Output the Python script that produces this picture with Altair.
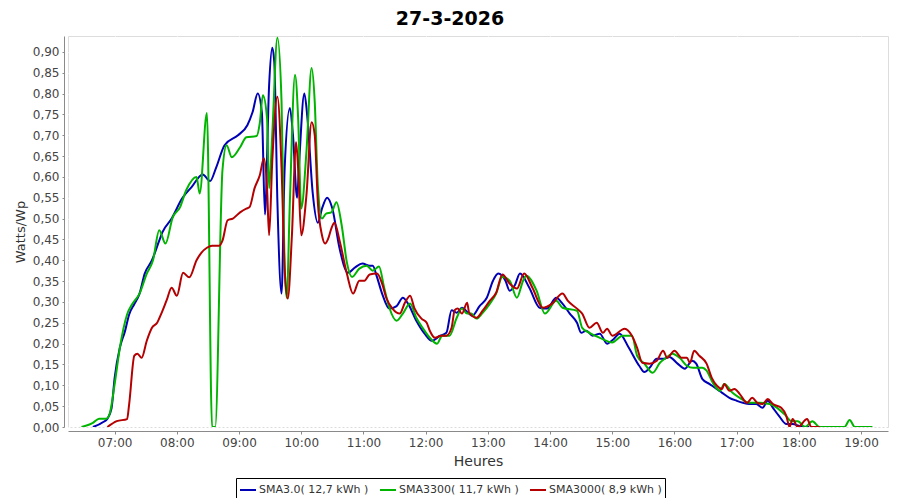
import altair as alt
import pandas as pd

# ---------------- data ----------------
names = ["SMA3.0( 12,7 kWh )", "SMA3300( 11,7 kWh )", "SMA3000( 8,9 kWh )"]
colors = ["#0000b4", "#00b400", "#b40000"]

blue_t = ["06:39", "06:49", "06:53", "06:57", "07:00", "07:05", "07:10", "07:14", "07:19", "07:24",
          "07:29", "07:36", "07:43", "07:46", "07:55", "08:05", "08:14", "08:25", "08:32", "08:38",
          "08:46", "08:59", "09:08", "09:13", "09:18", "09:22", "09:25", "09:29", "09:32", "09:34",
          "09:37", "09:41", "09:44", "09:49", "09:52", "09:56", "09:58", "10:03", "10:06", "10:11",
          "10:16", "10:20", "10:25", "10:30", "10:37", "10:45", "10:52", "10:59", "11:06", "11:09",
          "11:13", "11:18", "11:25", "11:32", "11:38", "11:43", "11:51", "11:59", "12:06", "12:14",
          "12:20", "12:25", "12:30", "12:35", "12:41", "12:45", "12:52", "12:59", "13:05", "13:10",
          "13:17", "13:21", "13:26", "13:31", "13:40", "13:50", "13:57", "14:06", "14:12", "14:19",
          "14:26", "14:30", "14:35", "14:41", "14:48", "14:55", "15:01", "15:07", "15:16", "15:26",
          "15:31", "15:36", "15:43", "15:50", "15:55", "16:03", "16:10", "16:17", "16:21", "16:27",
          "16:34", "16:41", "16:46", "16:53", "17:00", "17:06", "17:12", "17:19", "17:25", "17:30",
          "17:35", "17:41", "17:48", "17:54", "18:01", "18:10"]
blue_v = [0.000, 0.012, 0.020, 0.045, 0.118, 0.190, 0.230, 0.270, 0.295, 0.320,
          0.368, 0.400, 0.447, 0.467, 0.500, 0.548, 0.575, 0.606, 0.590, 0.623,
          0.676, 0.700, 0.724, 0.755, 0.800, 0.755, 0.510, 0.820, 0.910, 0.875,
          0.540, 0.320, 0.620, 0.765, 0.700, 0.550, 0.635, 0.800, 0.740, 0.563,
          0.490, 0.524, 0.550, 0.524, 0.428, 0.370, 0.383, 0.392, 0.387, 0.387,
          0.360, 0.320, 0.284, 0.290, 0.310, 0.296, 0.255, 0.224, 0.207, 0.219,
          0.226, 0.280, 0.274, 0.286, 0.274, 0.267, 0.290, 0.310, 0.351, 0.368,
          0.351, 0.327, 0.340, 0.368, 0.334, 0.286, 0.284, 0.310, 0.296, 0.272,
          0.250, 0.226, 0.231, 0.219, 0.224, 0.200, 0.210, 0.224, 0.190, 0.147,
          0.132, 0.142, 0.164, 0.164, 0.168, 0.152, 0.140, 0.159, 0.152, 0.115,
          0.103, 0.091, 0.082, 0.070, 0.063, 0.058, 0.055, 0.055, 0.046, 0.063,
          0.046, 0.026, 0.007, 0.007, 0.002, 0.000]

green_t = ["06:28", "06:39", "06:45", "06:52", "06:55", "07:00", "07:05", "07:12", "07:17", "07:24",
           "07:31", "07:37", "07:43", "07:49", "07:56", "08:03", "08:09", "08:19", "08:22", "08:29",
           "08:34", "08:37", "08:44", "08:48", "08:53", "09:01", "09:07", "09:17", "09:20", "09:23",
           "09:27", "09:29", "09:32", "09:37", "09:41", "09:44", "09:46", "09:49", "09:54", "09:57",
           "10:00", "10:05", "10:10", "10:13", "10:16", "10:20", "10:24", "10:29", "10:34", "10:39",
           "10:44", "10:49", "10:56", "11:03", "11:09", "11:15", "11:20", "11:25", "11:32", "11:38",
           "11:45", "11:51", "11:57", "12:04", "12:11", "12:16", "12:23", "12:30", "12:35", "12:40",
           "12:44", "12:49", "12:55", "13:02", "13:08", "13:14", "13:21", "13:28", "13:34", "13:37",
           "13:47", "13:55", "14:06", "14:12", "14:26", "14:31", "14:38", "14:48", "15:00", "15:10",
           "15:19", "15:24", "15:31", "15:39", "15:46", "15:52", "15:58", "16:05", "16:12", "16:18",
           "16:27", "16:31", "16:37", "16:44", "16:48", "16:56", "17:03", "17:12", "17:22", "17:32",
           "17:39", "17:46", "17:53", "17:59", "18:06", "18:13", "18:20", "18:44", "18:49", "18:54",
           "19:11"]
green_v = [0.000, 0.010, 0.020, 0.020, 0.030, 0.103, 0.190, 0.270, 0.295, 0.320,
           0.368, 0.400, 0.472, 0.440, 0.503, 0.527, 0.568, 0.600, 0.560, 0.753,
           0.000, 0.000, 0.616, 0.676, 0.647, 0.671, 0.695, 0.698, 0.729, 0.796,
           0.741, 0.573, 0.700, 0.934, 0.780, 0.380, 0.310, 0.539, 0.845, 0.741,
           0.524, 0.660, 0.861, 0.780, 0.580, 0.500, 0.512, 0.515, 0.539, 0.484,
           0.395, 0.360, 0.380, 0.387, 0.375, 0.385, 0.334, 0.286, 0.255, 0.272,
           0.296, 0.262, 0.238, 0.214, 0.200, 0.219, 0.219, 0.262, 0.284, 0.272,
           0.272, 0.260, 0.274, 0.296, 0.320, 0.360, 0.351, 0.310, 0.351, 0.363,
           0.327, 0.272, 0.303, 0.286, 0.279, 0.238, 0.226, 0.214, 0.203, 0.219,
           0.219, 0.171, 0.152, 0.130, 0.154, 0.166, 0.176, 0.166, 0.147, 0.142,
           0.142, 0.135, 0.106, 0.087, 0.103, 0.082, 0.070, 0.058, 0.058, 0.055,
           0.046, 0.031, 0.014, 0.014, 0.000, 0.014, 0.000, 0.000, 0.017, 0.000,
           0.000]

red_t = ["06:53", "07:02", "07:12", "07:14", "07:19", "07:22", "07:26", "07:31", "07:36", "07:41",
         "07:45", "07:50", "07:55", "08:00", "08:06", "08:12", "08:19", "08:24", "08:29", "08:34",
         "08:41", "08:44", "08:49", "08:54", "09:01", "09:07", "09:10", "09:15", "09:20", "09:24",
         "09:27", "09:29", "09:32", "09:37", "09:41", "09:44", "09:47", "09:51", "09:55", "09:57",
         "10:00", "10:05", "10:10", "10:13", "10:16", "10:20", "10:23", "10:26", "10:29", "10:32",
         "10:37", "10:44", "10:50", "10:56", "11:01", "11:06", "11:13", "11:18", "11:22", "11:28",
         "11:35", "11:40", "11:45", "11:49", "11:56", "12:01", "12:04", "12:09", "12:15", "12:20",
         "12:25", "12:28", "12:31", "12:35", "12:40", "12:42", "12:49", "12:55", "13:02", "13:08",
         "13:14", "13:21", "13:28", "13:35", "13:43", "13:53", "14:02", "14:12", "14:17", "14:26",
         "14:31", "14:38", "14:45", "14:51", "14:55", "15:00", "15:12", "15:19", "15:24", "15:29",
         "15:36", "15:43", "15:49", "15:53", "16:00", "16:07", "16:12", "16:15", "16:19", "16:24",
         "16:31", "16:36", "16:41", "16:46", "16:48", "16:53", "16:58", "17:03", "17:10", "17:15",
         "17:20", "17:25", "17:30", "17:35", "17:43", "17:48", "17:51", "17:54", "17:59", "18:08",
         "18:12", "18:20"]
red_v = [0.000, 0.014, 0.019, 0.055, 0.171, 0.176, 0.166, 0.207, 0.238, 0.250,
         0.272, 0.303, 0.334, 0.315, 0.370, 0.359, 0.400, 0.419, 0.430, 0.435,
         0.435, 0.447, 0.496, 0.500, 0.515, 0.524, 0.527, 0.573, 0.604, 0.645,
         0.573, 0.460, 0.635, 0.792, 0.620, 0.380, 0.308, 0.460, 0.683, 0.620,
         0.460, 0.556, 0.731, 0.700, 0.539, 0.460, 0.440, 0.452, 0.476, 0.490,
         0.447, 0.368, 0.320, 0.351, 0.351, 0.366, 0.368, 0.344, 0.310, 0.284,
         0.272, 0.298, 0.315, 0.286, 0.260, 0.250, 0.231, 0.214, 0.219, 0.219,
         0.238, 0.280, 0.284, 0.272, 0.298, 0.274, 0.262, 0.279, 0.303, 0.322,
         0.366, 0.344, 0.332, 0.368, 0.334, 0.286, 0.296, 0.320, 0.303, 0.284,
         0.272, 0.238, 0.250, 0.226, 0.236, 0.219, 0.236, 0.219, 0.190, 0.154,
         0.152, 0.159, 0.183, 0.166, 0.183, 0.166, 0.166, 0.154, 0.183, 0.171,
         0.152, 0.118, 0.099, 0.091, 0.103, 0.087, 0.091, 0.079, 0.058, 0.070,
         0.058, 0.055, 0.067, 0.055, 0.046, 0.026, 0.000, 0.019, 0.000, 0.019,
         0.000, 0.000]

hour_ticks = ["07:00", "08:00", "09:00", "10:00", "11:00", "12:00", "13:00",
              "14:00", "15:00", "16:00", "17:00", "18:00", "19:00"]
y_ticks = [round(i * 0.05, 2) for i in range(19)]

DAY = "2026-03-27T"

frames = []
for name, ts, vs in [(names[0], blue_t, blue_v), (names[1], green_t, green_v), (names[2], red_t, red_v)]:
    frames.append(pd.DataFrame({"serie": name, "t": [DAY + t + ":00" for t in ts], "v": vs}))
df = pd.concat(frames, ignore_index=True)
df["order"] = df["serie"].map({n: i for i, n in enumerate(names)})

FONT = "DejaVu Sans"

x_domain = [alt.DateTime(year=2026, month=3, date=27, hours=6, minutes=15),
            alt.DateTime(year=2026, month=3, date=27, hours=19, minutes=26)]
x_vals = [alt.DateTime(year=2026, month=3, date=27, hours=int(h[:2]), minutes=0) for h in hour_ticks]

chart = alt.Chart(df).mark_line(strokeWidth=2, interpolate="monotone", clip=True).encode(
    x=alt.X("t:T", scale=alt.Scale(domain=x_domain),
            axis=alt.Axis(title="Heures", format="%H:%M", values=x_vals, offset=4,
                          grid=True, gridColor="white", gridDash=[2, 2], gridOpacity=1,
                          domainColor="#8a8a8a", tickColor="#8a8a8a", tickSize=3,
                          labelColor="#444444", labelFont=FONT, labelFontSize=12, labelPadding=3,
                          titleFont=FONT, titleFontSize=14, titleFontWeight="normal",
                          titleColor="#333333", titlePadding=6)),
    y=alt.Y("v:Q", scale=alt.Scale(domain=[0, 0.938], nice=False),
            axis=alt.Axis(title="Watts/Wp", values=y_ticks, offset=4,
                          labelExpr="replace(format(datum.value, '.2f'), '.', ',')",
                          grid=True, gridColor="white", gridDash=[2, 2], gridOpacity=1,
                          domainColor="#8a8a8a", tickColor="#8a8a8a", tickSize=2,
                          labelColor="#444444", labelFont=FONT, labelFontSize=12, labelPadding=3,
                          titleFont=FONT, titleFontSize=13, titleFontWeight="normal",
                          titleColor="#333333", titlePadding=5)),
    color=alt.Color("serie:N", scale=alt.Scale(domain=names, range=colors),
                    legend=alt.Legend(title=None, orient="none", legendX=168, legendY=442,
                                      direction="horizontal", symbolType="stroke",
                                      symbolStrokeWidth=2, symbolSize=256,
                                      labelFont=FONT, labelFontSize=11, labelColor="#333333",
                                      labelOffset=2, columnPadding=7,
                                      strokeColor="black", fillColor="white", padding=3)),
    order=alt.Order("order:Q"),
).properties(
    width=820, height=391,
    title=alt.TitleParams("27-3-2026", font=FONT, fontSize=19, fontWeight="bold",
                          color="black", anchor="middle", dx=-28, offset=7),
    autosize=alt.AutoSizeParams(type="none"),
    padding={"left": 60, "top": 28, "right": 4, "bottom": 71},
).configure_view(
    fill="#cccccc", stroke="#666666", strokeWidth=1
).configure(background="white")

chart.save("out.html", embed_options={"renderer": "svg", "actions": False})
